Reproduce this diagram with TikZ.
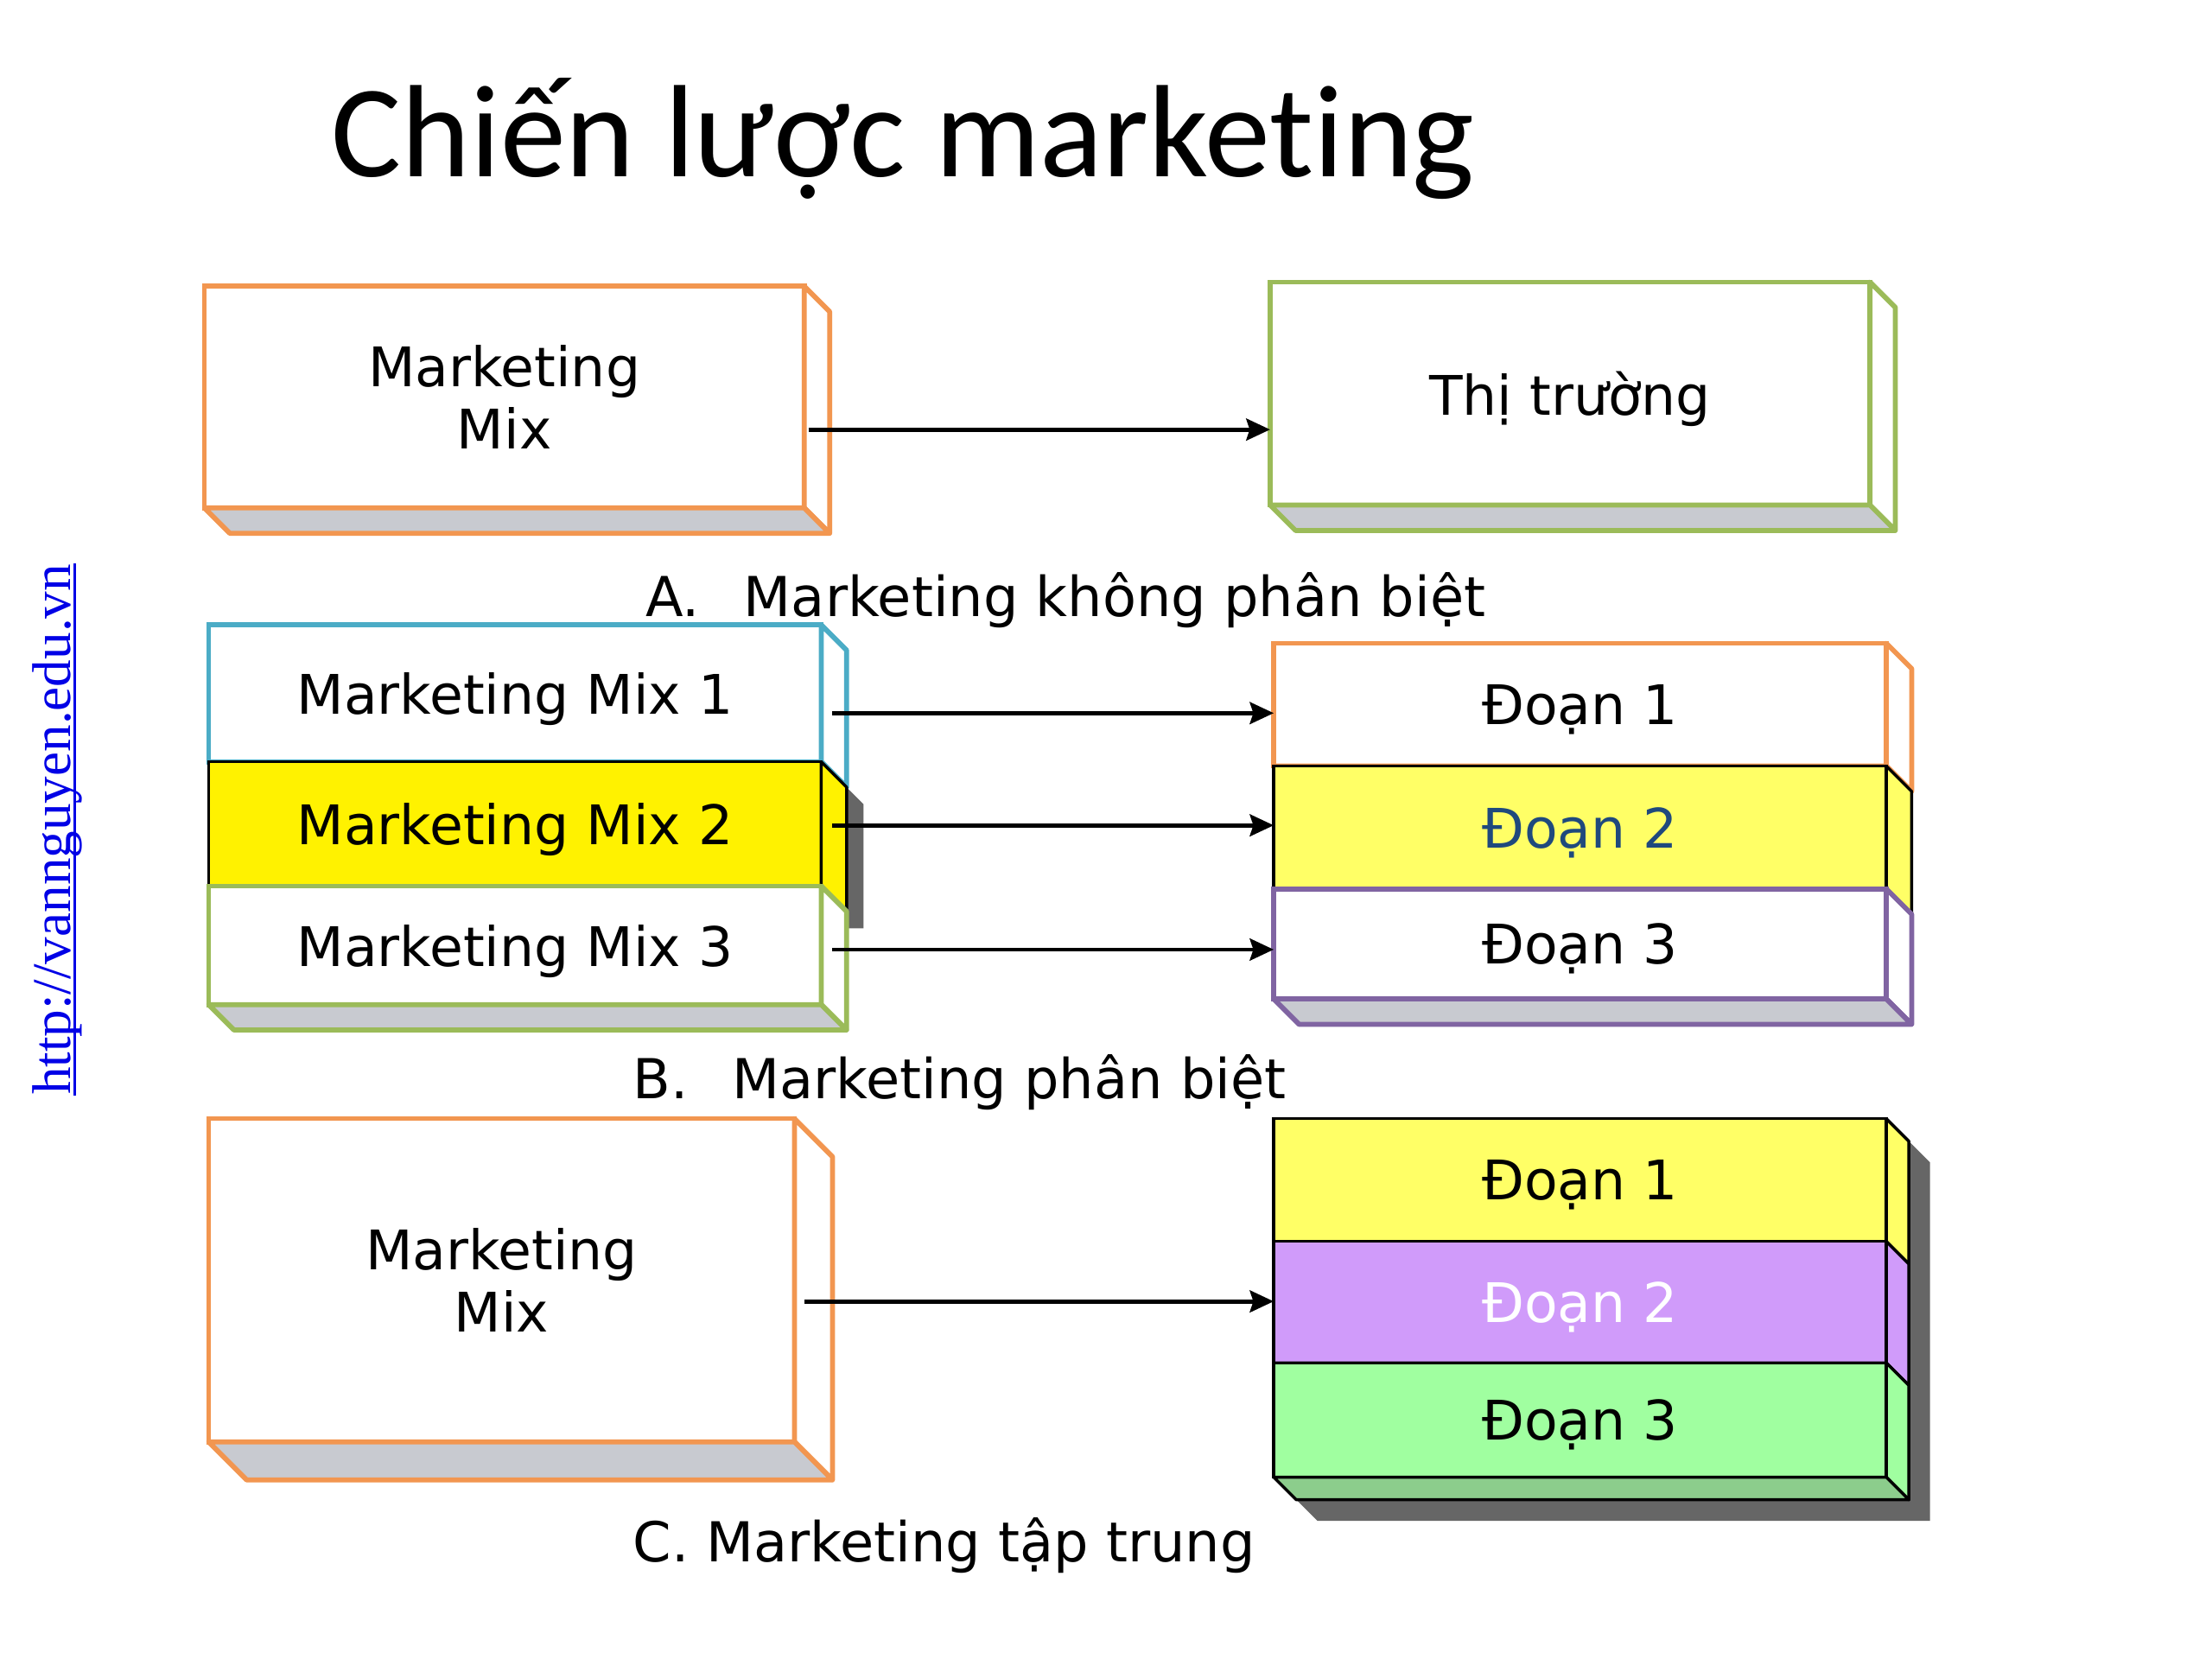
\documentclass[tikz,border=0pt]{standalone}
\usepackage{fontspec}
\setmainfont{DejaVu Sans}
\newfontfamily\titlefont[Ligatures=NoCommon]{Carlito}
\newfontfamily\urlfont{Liberation Serif}
\usepackage{xcolor}
\usepackage{tikz}
\usetikzlibrary{arrows.meta, positioning, backgrounds}
\definecolor{mixorange}{RGB}{242,150,80}
\definecolor{mktgreen}{RGB}{155,187,89}
\definecolor{mktblue}{RGB}{75,172,198}
\definecolor{mktpurple}{RGB}{128,100,162}
\definecolor{basegray}{RGB}{200,202,208}
\definecolor{shadowgray}{RGB}{102,102,102}
\definecolor{lightyellow}{RGB}{255,255,102}
\definecolor{lavender}{RGB}{208,155,250}
\definecolor{lightgreen}{RGB}{160,255,160}
\definecolor{darkgreen}{RGB}{140,205,140}
\definecolor{segblue}{RGB}{31,73,125}
\definecolor{urlblue}{RGB}{0,0,230}
\tikzstyle{orangeline} = [draw=mixorange, line width=1pt]
\tikzstyle{greenline} = [draw=mktgreen, line width=1pt]
\tikzstyle{blueline} = [draw=mktblue, line width=1pt]
\tikzstyle{purpleline} = [draw=mktpurple, line width=1pt]
\tikzstyle{blackline} = [draw=black, line width=0.6pt]
\tikzstyle{face} = [rectangle, text centered, align=center, inner sep=0pt, outer sep=0pt, fill=white, font=\fontsize{11}{12.5}\selectfont]
\tikzstyle{oneline} = [face, text depth=0pt]
\tikzstyle{caption} = [anchor=base west, inner sep=0pt, font=\fontsize{11.1}{13}\selectfont]
\tikzstyle{arrow} = [line width=0.85pt,->,>={Stealth[length=4.8pt,width=4.4pt,inset=0.7pt]}]
% side and bottom faces of a box: line style, node, depth, side fill, bottom fill
\newcommand{\slab}[5]{%
  \filldraw[#1, fill=#4, line join=round] (#2.north east) -- ++(#3,#3) -- ([shift={(#3,#3)}]#2.south east) -- (#2.south east) -- cycle;
  \filldraw[#1, fill=#5, line join=round] (#2.south west) -- (#2.south east) -- ++(#3,#3) -- ([shift={(#3,#3)}]#2.south west) -- cycle;
}
% drop shadow of a stack: top node, bottom node, depth, offset
\newcommand{\dropshadow}[4]{%
  \fill[shadowgray] ([shift={(#4,#4)}]#1.north west) -- ([shift={(#4,#4)}]#1.north east) -- ++(#3,#3) -- ([shift={(#3+#4,#3+#4)}]#2.south east) -- ([shift={(#3+#4,#3+#4)}]#2.south west) -- ([shift={(#4,#4)}]#2.south west) -- cycle;
}

\begin{document}
\begin{tikzpicture}[x=0.01cm, y=-0.01cm]
        \useasboundingbox (0,0) rectangle (1568,1176);
        \node[font=\titlefont\fontsize{26.5}{30}\selectfont, anchor=base] (title) at (640,125) {Chiến lược marketing};
        \node[font=\urlfont\fontsize{11}{13}\selectfont, text=urlblue, rotate=90, anchor=base, inner sep=0pt] (url) at (50,588) {http://vannguyen.edu.vn};
        \draw[urlblue, line width=0.6pt] ([shift={(3,0)}]url.base west) -- ([shift={(3,0)}]url.base east);

        % A. undifferentiated
        \node[face, orangeline, minimum width=4.25cm, minimum height=1.57cm] (mixA) at (357.5,281.5) {Marketing\\Mix};
        \slab{orangeline}{mixA}{18}{white}{basegray}
        \node[oneline, greenline, minimum width=4.25cm, minimum height=1.58cm, right=3.3cm of mixA, yshift=0.025cm] (market) {Thị trường};
        \slab{greenline}{market}{18}{white}{basegray}
        \node[caption] (capA) at (457,437) {A.\hspace{0.8em}Marketing không phân biệt};

        % B. differentiated
        \node[oneline, blueline, minimum width=4.34cm, minimum height=0.97cm] (mixone) at (365,491.5) {Marketing Mix 1};
        \slab{blueline}{mixone}{18}{white}{white}
        \node[oneline, blackline, fill=yellow, minimum width=4.34cm, minimum height=0.88cm, below=0pt of mixone] (mixtwo) {Marketing Mix 2};
        \slab{blackline}{mixtwo}{18}{yellow}{yellow}
        \node[oneline, greenline, minimum width=4.34cm, minimum height=0.84cm, below=0pt of mixtwo] (mixthree) {Marketing Mix 3};
        \slab{greenline}{mixthree}{18}{white}{basegray}

        \node[oneline, orangeline, minimum width=4.34cm, minimum height=0.87cm] (segone) at (1120,499.5) {Đoạn 1};
        \slab{orangeline}{segone}{18}{white}{white}
        \node[oneline, blackline, fill=lightyellow, text=segblue, minimum width=4.34cm, minimum height=0.87cm, below=0pt of segone] (segtwo) {Đoạn 2};
        \slab{blackline}{segtwo}{18}{lightyellow}{lightyellow}
        \node[oneline, purpleline, minimum width=4.34cm, minimum height=0.78cm, below=0pt of segtwo] (segthree) {Đoạn 3};
        \slab{purpleline}{segthree}{18}{white}{basegray}
        \node[caption] (capB) at (448,779) {B.\hspace{0.8em}Marketing phân biệt};

        % C. concentrated
        \node[face, orangeline, minimum width=4.15cm, minimum height=2.29cm] (mixC) at (355.5,907.5) {Marketing\\Mix};
        \slab{orangeline}{mixC}{27}{white}{basegray}
        \node[oneline, blackline, fill=lightyellow, minimum width=4.34cm, minimum height=0.87cm] (focone) at (1120,836.5) {Đoạn 1};
        \slab{blackline}{focone}{16}{lightyellow}{lightyellow}
        \node[oneline, blackline, fill=lavender, text=white, minimum width=4.34cm, minimum height=0.86cm, below=0pt of focone] (foctwo) {Đoạn 2};
        \slab{blackline}{foctwo}{16}{lavender}{lavender}
        \node[oneline, blackline, fill=lightgreen, minimum width=4.34cm, minimum height=0.81cm, below=0pt of foctwo] (focthree) {Đoạn 3};
        \slab{blackline}{focthree}{16}{lightgreen}{darkgreen}
        \node[caption] (capC) at (448,1107) {C. Marketing tập trung};

        \begin{scope}[on background layer]
            \dropshadow{mixtwo}{mixtwo}{18}{12}
            \dropshadow{focone}{focthree}{16}{15}
        \end{scope}

        \draw[arrow] ([shift={(3,23)}]mixA.east) coordinate (a1) -- (market.west |- a1);
        \draw[arrow] ([shift={(8,14)}]mixone.east) coordinate (b1) -- (segone.west |- b1);
        \draw[arrow] ([shift={(8,1)}]mixtwo.east) coordinate (b2) -- (segtwo.west |- b2);
        \draw[arrow] ([shift={(8,3)}]mixthree.east) coordinate (b3) -- (segthree.west |- b3);
        \draw[arrow] ([shift={(7,15)}]mixC.east) coordinate (c1) -- (foctwo.west |- c1);
    \end{tikzpicture}
\end{document}
